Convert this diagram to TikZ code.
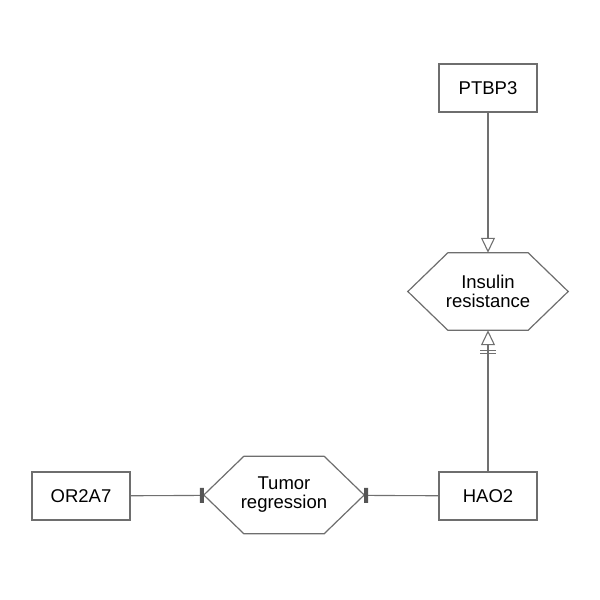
\documentclass[tikz,border=0pt]{standalone}
\usepackage{fontspec}
\setmainfont{Liberation Sans}
\usetikzlibrary{arrows.meta,calc}
\definecolor{geneEdge}{HTML}{6E6E6E}
\definecolor{linkLine}{HTML}{707070}
\definecolor{inhibBar}{HTML}{555555}
\tikzset{
    geneBox/.style={
        rectangle,
        draw=geneEdge,
        line width=1.2pt,
        fill=white,
        minimum width=98pt,
        minimum height=48pt,
        font=\fontsize{18.5}{19}\selectfont
    },
    phenoNode/.style={
        rectangle,
        minimum width=160pt,
        minimum height=77pt,
        align=center,
        font=\fontsize{18.5}{19}\selectfont
    },
    phenoEdge/.style={draw=geneEdge, line width=1.2pt},
    % Arrows
    linkBase/.style={draw=linkLine, line width=1.1pt},
    activates/.style={linkBase, -{Triangle[open, length=15pt, width=14pt]}},
    weakActivates/.style={linkBase, -{Bar[width=16pt, sep=2pt] Bar[width=16pt, sep=4.5pt] Triangle[open, length=15pt, width=14pt]}},
    inhibits/.style={linkBase, -{Bar[width=15pt, line width=4pt, color=inhibBar]}}
}
% hexagon drawn round a phenotype node
\newcommand{\phenoHex}[1]{%
    \draw[phenoEdge] (#1.west) -- ([xshift=40pt]#1.north west) -- ([xshift=-40pt]#1.north east)
        -- (#1.east) -- ([xshift=-40pt]#1.south east) -- ([xshift=40pt]#1.south west) -- cycle;}

\begin{document}
\begin{tikzpicture}[x=1pt, y=-1pt]
\useasboundingbox (0,0) rectangle (600,600);

\node[geneBox] (ptbp3) at (488,88) {PTBP3};
\node[phenoNode] (insulin) at (488,291.5) {Insulin\\resistance};
\node[geneBox] (hao2) at (488,496) {HAO2};
\node[geneBox] (or2a7) at (81,496) {OR2A7};
\node[phenoNode] (tumor) at (284,495) {Tumor\\regression};

\phenoHex{insulin}
\phenoHex{tumor}

\draw[activates] (ptbp3) -- (insulin);
\draw[weakActivates] (hao2) -- (insulin);
\draw[inhibits] (or2a7) -- (tumor);
\draw[inhibits] (hao2) -- (tumor);
\end{tikzpicture}
\end{document}
